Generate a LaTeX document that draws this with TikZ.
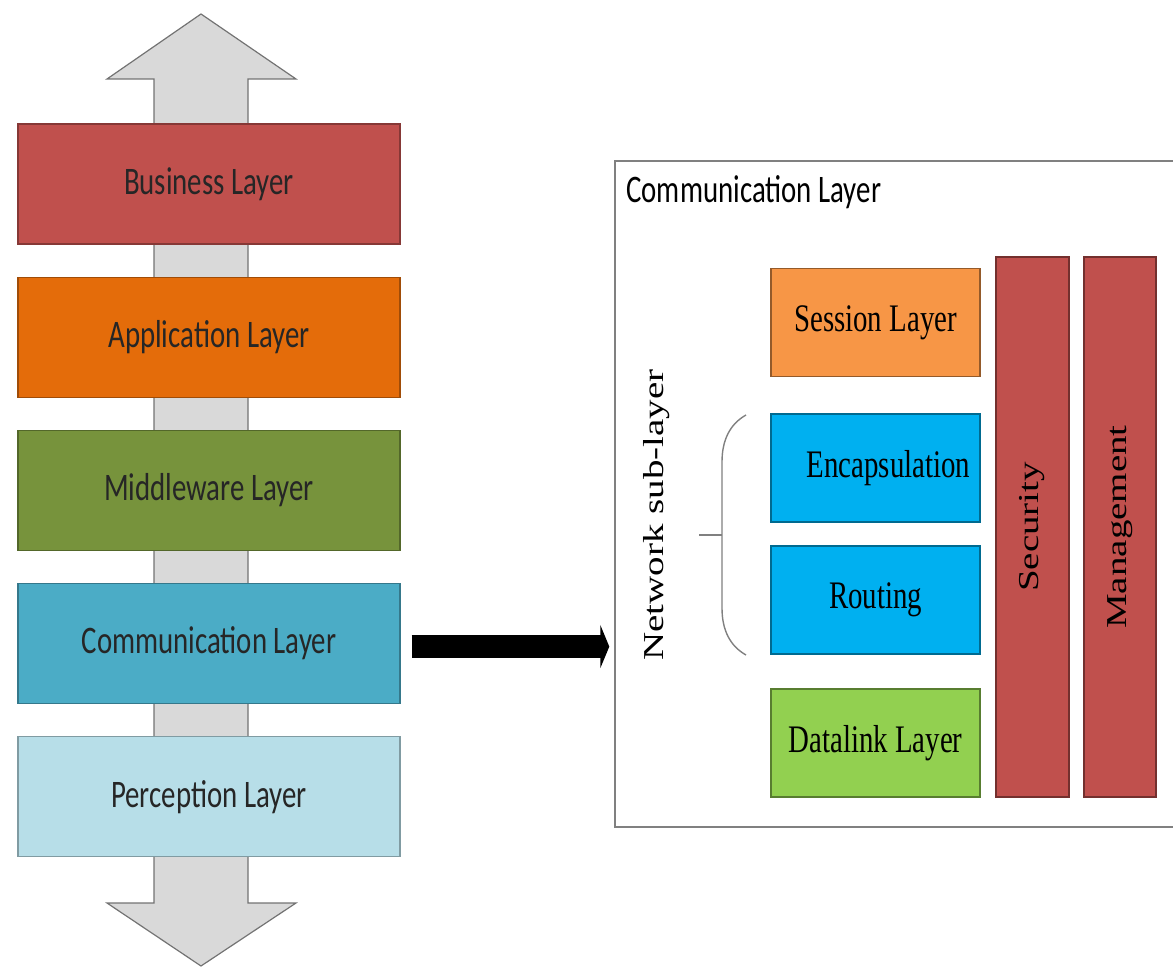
\documentclass[tikz,border=0pt]{standalone}
\usepackage{fontspec}
\usepackage{graphicx}
\usepackage{tikz}
\usetikzlibrary{arrows.meta}
\setmainfont{Liberation Serif}
\newfontfamily\calib{Carlito}

\definecolor{busred}{HTML}{C0504D}
\definecolor{apporange}{HTML}{E46C0A}
\definecolor{midgreen}{HTML}{77933C}
\definecolor{comaqua}{HTML}{4BACC6}
\definecolor{percblue}{HTML}{B7DEE8}
\definecolor{sessorange}{HTML}{F79646}
\definecolor{netblue}{HTML}{00B0F0}
\definecolor{linkgreen}{HTML}{92D050}
\definecolor{shaftgray}{HTML}{D9D9D9}

% the source picture is squeezed sideways
\newcommand{\sqx}[1]{\scalebox{0.74}[1]{#1}}
\newcommand{\sqy}[1]{\rotatebox{90}{\scalebox{1}[0.74]{#1}}}

\begin{document}
\begin{tikzpicture}[
  x=0.5pt, y=-0.5pt,
  node distance = 76.6pt,
  lnode/.style={rectangle, draw=#1!70!black, fill=#1, line width=0.6pt,
    minimum width=191pt, minimum height=60pt, text=black!85,
    font=\calib\fontsize{19.5}{23}\selectfont},
  snode/.style={rectangle, draw=#1!60!black, fill=#1, line width=0.6pt,
    minimum width=104.5pt, minimum height=54pt, text=black,
    font=\fontsize{19.5}{23}\selectfont},
  bnode/.style={rectangle, draw=busred!60!black, fill=busred, line width=0.6pt,
    minimum width=36.5pt, minimum height=270pt, text=black,
    font=\fontsize{19.5}{23}\selectfont},
  shaft/.style={fill=shaftgray, draw=black!55, line width=0.6pt},
  arw/.style={-{Triangle[length=4.5pt, width=21.5pt]}, line width=11.5pt},
  brc/.style={draw=black!50, line width=0.7pt}
  ]

\useasboundingbox (0,0) rectangle (1173,974);

% up/down arrow behind the stack
\draw [shaft] (201,14) -- (296,79) -- (248,79) -- (248,903) -- (296,903)
  -- (201,966) -- (107,903) -- (154,903) -- (154,79) -- (107,79) -- cycle;

\node [lnode=busred] (busl) at (209,184) {\sqx{Business Layer}};
\node [lnode=apporange, below of=busl] (appl) {\sqx{Application Layer}};
\node [lnode=midgreen, below of=appl] (midl) {\sqx{Middleware Layer}};
\node [lnode=comaqua, below of=midl] (coml) {\sqx{Communication Layer}};
\node [lnode=percblue, below of=coml] (percl) {\sqx{Perception Layer}};

% detail of the communication layer
\node [rectangle, draw=black!50, line width=0.7pt, minimum width=282.5pt,
  minimum height=333pt] (cbox) at (897.5,494) {};
\node [anchor=base west, inner sep=0pt, font=\calib\fontsize{19.5}{23}\selectfont]
  (ctitle) at (626,202) {\sqx{Communication Layer}};

\node [snode=sessorange] (sess) at (875.5,322.5) {\sqx{Session Layer}};
\node [snode=netblue] (encap) at (875.5,468) {\hspace*{13pt}\sqx{Encapsulation}};
\node [snode=netblue] (rout) at (875.5,600) {\sqx{Routing}};
\node [snode=linkgreen] (dlink) at (875.5,743) {\sqx{Datalink Layer}};

\node [bnode] (secu) at (1032.5,527) {\sqy{Security}};
\node [bnode, minimum width=36pt] (mgmt) at (1120,527) {\sqy{Management}};

\node [font=\fontsize{19.5}{23}\selectfont] (netsub) at (657,515) {\sqy{Network sub-layer}};

\coordinate (brtop) at (746,415);
\coordinate (brbot) at (746,655);
\coordinate (brtip) at (699,535);
\draw [brc] (brtop) .. controls (730,424) and (722,440) .. (722,462) -- (722,608)
  .. controls (722,630) and (730,646) .. (brbot);
\draw [brc] (722,535) -- (brtip);

\draw [arw, shorten <=5.5pt, shorten >=2.5pt] ([yshift=-1.5pt]coml.east) -- ([yshift=-1.5pt]coml.east -| cbox.west);

\end{tikzpicture}
\end{document}
